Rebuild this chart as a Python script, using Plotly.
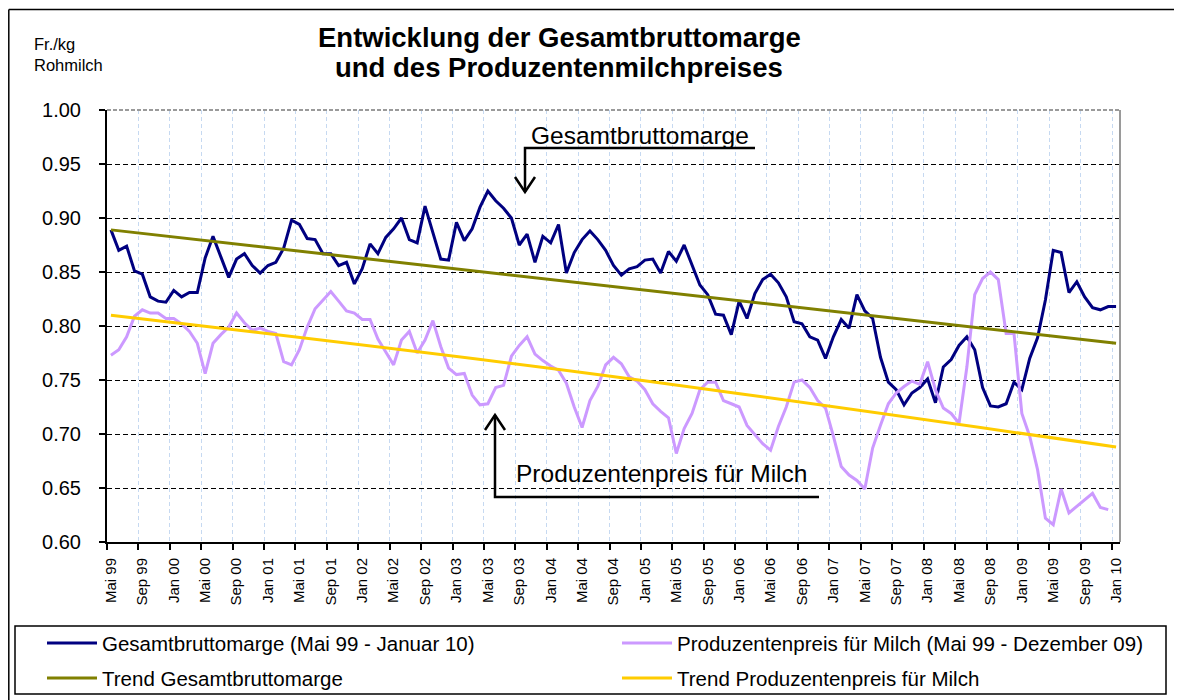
import plotly.graph_objects as go

# ---------------- data ----------------
MONTH_ABBR = ["Jan", "Feb", "Mär", "Apr", "Mai", "Jun", "Jul", "Aug", "Sep", "Okt", "Nov", "Dez"]
months = []
_y, _m = 1999, 4
while (_y, _m) <= (2010, 0):
    months.append(f"{MONTH_ABBR[_m]} {str(_y)[2:]}")
    _m += 1
    if _m == 12:
        _m, _y = 0, _y + 1

gesamtbruttomarge = [
    0.889, 0.870, 0.874, 0.851, 0.848, 0.827, 0.823, 0.822, 0.833, 0.827,
    0.831, 0.831, 0.863, 0.883, 0.864, 0.845, 0.862, 0.867, 0.856, 0.849,
    0.856, 0.859, 0.872, 0.898, 0.894, 0.881, 0.880, 0.867, 0.867, 0.856,
    0.859, 0.839, 0.853, 0.876, 0.867, 0.882, 0.890, 0.900, 0.880, 0.877,
    0.911, 0.886, 0.862, 0.861, 0.896, 0.879, 0.890, 0.910, 0.925, 0.916,
    0.909, 0.900, 0.875, 0.885, 0.859, 0.883, 0.877, 0.894, 0.849, 0.868,
    0.880, 0.888, 0.880, 0.870, 0.856, 0.847, 0.853, 0.855, 0.861, 0.862,
    0.849, 0.869, 0.860, 0.875, 0.856, 0.838, 0.829, 0.811, 0.810, 0.792,
    0.823, 0.807, 0.830, 0.843, 0.848, 0.840, 0.827, 0.804, 0.802, 0.790,
    0.787, 0.770, 0.790, 0.806, 0.798, 0.829, 0.814, 0.807, 0.771, 0.748,
    0.741, 0.727, 0.738, 0.743, 0.751, 0.729, 0.762, 0.769, 0.782, 0.790,
    0.778, 0.743, 0.726, 0.725, 0.728, 0.748, 0.741, 0.770, 0.789, 0.824,
    0.870, 0.868, 0.831, 0.841, 0.827, 0.817, 0.815, 0.818, 0.818,
]

produzentenpreis = [
    0.773, 0.778, 0.790, 0.809, 0.815, 0.812, 0.812, 0.807, 0.807, 0.802,
    0.795, 0.784, 0.756, 0.784, 0.792, 0.799, 0.812, 0.803, 0.796, 0.798,
    0.795, 0.793, 0.767, 0.764, 0.778, 0.799, 0.816, 0.824, 0.832, 0.823,
    0.814, 0.812, 0.806, 0.806, 0.788, 0.776, 0.764, 0.787, 0.795, 0.775,
    0.787, 0.805, 0.781, 0.761, 0.755, 0.756, 0.736, 0.727, 0.728, 0.743,
    0.745, 0.772, 0.782, 0.790, 0.774, 0.768, 0.763, 0.759, 0.747, 0.725,
    0.706, 0.731, 0.744, 0.764, 0.771, 0.765, 0.753, 0.749, 0.741, 0.728,
    0.721, 0.715, 0.682, 0.705, 0.719, 0.741, 0.748, 0.748, 0.731, 0.728,
    0.725, 0.708, 0.699, 0.691, 0.685, 0.707, 0.725, 0.748, 0.750, 0.743,
    0.731, 0.724, 0.698, 0.670, 0.662, 0.657, 0.649, 0.687, 0.708, 0.728,
    0.738, 0.744, 0.749, 0.746, 0.767, 0.741, 0.724, 0.719, 0.710, 0.762,
    0.829, 0.844, 0.850, 0.843, 0.793, 0.793, 0.719, 0.698, 0.667, 0.622,
    0.616, 0.649, 0.627, 0.633, 0.639, 0.645, 0.632, 0.630,
]

trend_gesamt_months = ["Mai 99", "Jan 10"]
trend_gesamt_values = [0.889, 0.784]
trend_produzent_months = ["Mai 99", "Mai 04", "Jan 10"]
trend_produzent_values = [0.810, 0.757, 0.688]

y_ticks = [0.60, 0.65, 0.70, 0.75, 0.80, 0.85, 0.90, 0.95, 1.00]
label_step = 4

# ---------------- layout helpers ----------------
OFF = 8                      # page body margin of the html page
W, H = 1182 - OFF, 700 - OFF
L, R, T, B = 107 - OFF, 62, 110 - OFF, 158
PW, PH = W - L - R, H - T - B


def px(x):
    """page pixel x -> paper coordinate"""
    return (x - OFF - L) / PW


def py(y):
    """page pixel y -> paper coordinate"""
    return (OFF + H - B - y) / PH


def idx(label):
    return months.index(label)


FONT = "Liberation Sans, Arial, sans-serif"
x_all = list(range(len(months)))

fig = go.Figure()
fig.add_trace(go.Scatter(x=x_all[:len(gesamtbruttomarge)], y=gesamtbruttomarge, mode="lines",
                         line=dict(color="#000080", width=3),
                         name="Gesamtbruttomarge (Mai 99 - Januar 10)", showlegend=False))
fig.add_trace(go.Scatter(x=x_all[:len(produzentenpreis)], y=produzentenpreis, mode="lines",
                         line=dict(color="#CC99FF", width=3),
                         name="Produzentenpreis für Milch (Mai 99 - Dezember 09)", showlegend=False))
fig.add_trace(go.Scatter(x=[idx(m) for m in trend_gesamt_months], y=trend_gesamt_values, mode="lines",
                         line=dict(color="#808000", width=3),
                         name="Trend Gesamtbruttomarge", showlegend=False))
fig.add_trace(go.Scatter(x=[idx(m) for m in trend_produzent_months], y=trend_produzent_values, mode="lines",
                         line=dict(color="#FFCC00", width=3, shape="spline"),
                         name="Trend Produzentenpreis für Milch", showlegend=False))

shapes = []
# plot-area border (grey) top and right
shapes.append(dict(type="line", xref="paper", yref="paper", x0=0, x1=1, y0=1, y1=1,
                   line=dict(color="#9a9a9a", width=2, dash="4px,2px"), layer="above"))
shapes.append(dict(type="line", xref="paper", yref="paper", x0=1, x1=1, y0=0, y1=1,
                   line=dict(color="#9a9a9a", width=2), layer="above"))
# outer chart border (left and top visible)
shapes.append(dict(type="line", xref="paper", yref="paper", x0=px(8.8), x1=px(1200), y0=py(9.5), y1=py(9.5),
                   line=dict(color="black", width=1.5)))
shapes.append(dict(type="line", xref="paper", yref="paper", x0=px(8.8), x1=px(8.8), y0=py(9.5), y1=py(710),
                   line=dict(color="black", width=1.5)))


def path(points):
    return "M " + " L ".join(f"{px(a):.5f},{py(b):.5f}" for a, b in points)


# callout arrows
for pts in ([(525, 192), (525, 148), (755, 148)],
            [(515, 177), (525, 192), (535, 177)],
            [(495, 415), (495, 497), (819, 497)],
            [(485, 430), (495, 415), (505, 430)]):
    shapes.append(dict(type="path", xref="paper", yref="paper", path=path(pts),
                       line=dict(color="black", width=2.5), layer="above"))

# legend box and samples
shapes.append(dict(type="rect", xref="paper", yref="paper", x0=px(15), x1=px(1166), y0=py(626), y1=py(694),
                   line=dict(color="black", width=1.5)))
legend_items = [
    ("Gesamtbruttomarge (Mai 99 - Januar 10)", "#000080", 47, 643),
    ("Produzentenpreis für Milch (Mai 99 - Dezember 09)", "#CC99FF", 622, 643),
    ("Trend Gesamtbruttomarge", "#808000", 47, 678),
    ("Trend Produzentenpreis für Milch", "#FFCC00", 622, 678),
]
annotations = []
for text, color, lx, ly in legend_items:
    shapes.append(dict(type="line", xref="paper", yref="paper", x0=px(lx), x1=px(lx + 50), y0=py(ly), y1=py(ly),
                       line=dict(color=color, width=3)))
    annotations.append(dict(text=text, xref="paper", yref="paper", x=px(lx + 53), y=py(ly),
                            xanchor="left", yanchor="middle", showarrow=False,
                            font=dict(family=FONT, size=20.5, color="black")))

# titles and labels
annotations += [
    dict(text="<b>Entwicklung der Gesamtbruttomarge</b>", x=px(559), y=py(38), xref="paper", yref="paper",
         xanchor="center", yanchor="middle", showarrow=False, font=dict(family=FONT, size=27.5, color="black")),
    dict(text="<b>und des Produzentenmilchpreises</b>", x=px(559), y=py(68), xref="paper", yref="paper",
         xanchor="center", yanchor="middle", showarrow=False, font=dict(family=FONT, size=27.5, color="black")),
    dict(text="Fr./kg<br>Rohmilch", x=px(32), y=py(55), xref="paper", yref="paper", xanchor="left",
         yanchor="middle", align="left", showarrow=False,
         font=dict(family=FONT, size=16.5, color="black")),
    dict(text="Gesamtbruttomarge", x=px(640), y=py(135), xref="paper", yref="paper", xanchor="center",
         yanchor="middle", showarrow=False, font=dict(family=FONT, size=24.5, color="black")),
    dict(text="Produzentenpreis für Milch", x=px(661), y=py(473), xref="paper", yref="paper", xanchor="center",
         yanchor="middle", showarrow=False, font=dict(family=FONT, size=24.5, color="black")),
]

fig.update_layout(
    width=W, height=H,
    margin=dict(l=L, r=R, t=T, b=B),
    paper_bgcolor="white", plot_bgcolor="white",
    font=dict(family=FONT, color="black"),
    showlegend=False,
    shapes=shapes,
    annotations=annotations,
    xaxis=dict(
        range=[-0.5, len(months) - 0.5],
        tickmode="array",
        tickvals=x_all[::label_step],
        ticktext=months[::label_step],
        tickangle=-90,
        tickfont=dict(family=FONT, size=15, color="black"),
        ticks="",
        ticklabelstandoff=8,
        showgrid=False,
        zeroline=False,
        showline=True, linecolor="black", linewidth=2,
        minor=dict(tickmode="linear", tick0=-0.5, dtick=label_step, ticks="outside", ticklen=6,
                   tickcolor="black", tickwidth=1.5, showgrid=True, gridcolor="#C6D9F1",
                   gridwidth=1, griddash="4px,3px"),
    ),
    yaxis=dict(
        range=[0.6, 1.0],
        tickmode="array",
        tickvals=y_ticks,
        ticktext=[f"{v:.2f}" for v in y_ticks],
        tickfont=dict(family=FONT, size=20, color="black"),
        ticks="outside", ticklen=6, tickcolor="black", tickwidth=1.5,
        ticklabelstandoff=14,
        showgrid=True, gridcolor="black", gridwidth=1, griddash="5px,3px",
        zeroline=False,
        showline=True, linecolor="black", linewidth=2,
    ),
)

fig.write_html("out.html")
